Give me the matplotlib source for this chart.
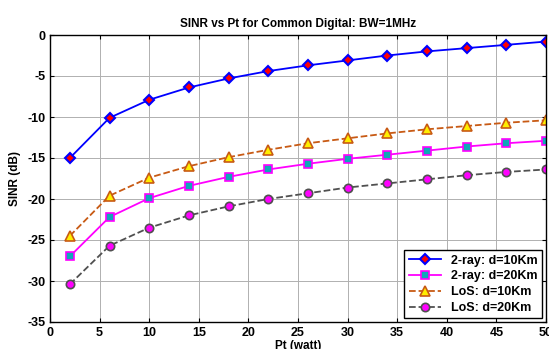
import matplotlib
matplotlib.use("Agg")
import matplotlib.pyplot as plt

pt = [2, 6, 10, 14, 18, 22, 26, 30, 34, 38, 42, 46, 50]
ray_10km = [-15.0, -10.1, -7.9, -6.4, -5.3, -4.4, -3.7, -3.1, -2.5, -2.0, -1.6, -1.2, -0.8]
ray_20km = [-27.0, -22.2, -19.9, -18.4, -17.3, -16.4, -15.7, -15.1, -14.6, -14.1, -13.6, -13.2, -12.9]
los_10km = [-24.5, -19.6, -17.4, -16.0, -14.9, -14.0, -13.2, -12.6, -12.0, -11.5, -11.1, -10.7, -10.4]
los_20km = [-30.4, -25.7, -23.5, -22.0, -20.9, -20.0, -19.3, -18.6, -18.1, -17.6, -17.1, -16.7, -16.4]

plt.rcParams["font.family"] = ["Liberation Sans", "DejaVu Sans"]
plt.rcParams["font.weight"] = "bold"
plt.rcParams["axes.unicode_minus"] = False

fig = plt.figure(figsize=(5.49, 3.49), dpi=100)
ax = fig.add_axes([50 / 549, 1 - 322 / 349, 496 / 549, 287 / 349])

ax.plot(pt, ray_10km, "-", color="#0000ff", lw=1.3, marker="D", ms=5,
        mfc="#ff0000", mec="#0000ff", mew=1.5, label="2-ray: d=10Km")
ax.plot(pt, ray_20km, "-", color="#ff00ff", lw=1.3, marker="s", ms=6,
        mfc="#10a8b8", mec="#ff00ff", mew=1.2, label="2-ray: d=20Km")
ax.plot(pt, los_10km, "--", color="#c85a14", lw=1.3, marker="^", ms=7,
        mfc="#ffee00", mec="#c85a14", mew=1.2, label="LoS: d=10Km")
ax.plot(pt, los_20km, "--", color="#505050", lw=1.3, marker="o", ms=6,
        mfc="#ff00ff", mec="#505050", mew=1.2, label="LoS: d=20Km")

ax.set_xlim(0, 50)
ax.set_ylim(-35, 0)
ax.set_xticks(range(0, 51, 5))
ax.set_yticks(range(-35, 1, 5))
ax.grid(True, ls="-", color="#b0b0b0", lw=0.7)
ax.tick_params(direction="in", top=True, right=True, labelsize=9, length=3)
for s in ax.spines.values():
    s.set_linewidth(1.0)

ax.set_title("SINR vs Pt for Common Digital: BW=1MHz", fontsize=8.5, fontweight="bold")
ax.set_xlabel("Pt (watt)", fontsize=8.5, fontweight="bold", labelpad=1)
ax.set_ylabel("SINR (dB)", fontsize=8.5, fontweight="bold")

leg = ax.legend(loc="lower right", fontsize=9, fancybox=False, edgecolor="black",
                framealpha=1, borderpad=0.35, labelspacing=0.3, handlelength=2.6,
                borderaxespad=0.3)
leg.get_frame().set_linewidth(1.0)

fig.savefig("out.png", dpi=100)
